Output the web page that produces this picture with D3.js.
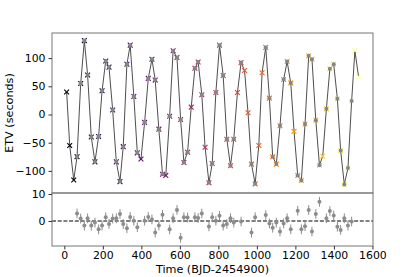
<!DOCTYPE html>
<html>
<head>
<meta charset="utf-8">
<script src="https://cdn.jsdelivr.net/npm/d3@7"></script>
<style>
  body { margin: 0; background: #fff; }
  svg { display: block; font-family: 'DejaVu Sans', sans-serif; }
</style>
</head>
<body>
<div class="container"></div>
<script>
// observed eclipse timing variations (days, seconds)
const obsTime = [12, 28, 49, 66, 85, 104, 121, 140, 159, 178, 196, 215, 232, 251, 270, 289, 306, 325, 342, 361,
    379, 398, 417, 436, 455, 472, 491, 510, 527, 547, 565, 585, 604, 621, 640, 659, 678, 695, 714, 731, 751, 768,
    787, 806, 825, 844, 863, 880, 899, 918, 936, 954, 972, 991, 1010, 1027, 1046, 1065, 1082, 1101, 1120, 1139, 1157, 1176,
    1193, 1212, 1231, 1250, 1269, 1286, 1306, 1325, 1342, 1361, 1379, 1399, 1418, 1435, 1454, 1473, 1492, 1509, 1528];
const obsEtv = [40, -55, -116, -75, 55, 131, 70, -40, -84, -39, 42, 95, 84, 8, -84, -119, -57, 89, 123, 32,
    -68, -79, -14, 64, 98, 61, -26, -106, -108, -3, 113, 101, -9, -85, -67, 13, 82, 93, 35, -58, -121, -87,
    39, 123, 69, -44, -91, -44, 39, 92, 78, 3, -88, -123, -55, 74, 119, 29, -75, -88, -20, 62, 94, 56,
    -30, -108, -117, -17, 104, 98, -10, -90, -74, 10, 81, 89, 28, -64, -124, -95, 24, 113, 67];

// residuals of the fitted model (only where the model was computed)
const resTime = [66, 85, 104, 121, 140, 159, 178, 196, 215, 232, 251, 270, 289, 306, 325, 342, 361, 379,
    417, 436, 455, 472, 491, 510, 547, 565, 585, 604, 621, 640, 678, 695, 714,
    751, 768, 787, 806, 825, 844, 863, 880, 918, 972, 991,
    1046, 1065, 1082, 1101, 1120, 1139, 1157, 1176, 1212, 1231, 1250, 1269, 1286, 1306, 1325,
    1361, 1379, 1399, 1418, 1435, 1454, 1473, 1492];
const resEtv = [2.8, 0.9, -1.7, 1.0, -1.7, -0.6, -3.1, -1.7, 1.4, -1.1, 0.9, 1.0, 2.6, -1.1, -2.7, 1.5, 0.1, -2.3,
    0.1, 1.5, 0.6, -4.3, -1.7, 2.3, -3.1, 1.0, 4.1, -6.2, 1.4, 1.3, 1.4, 1.1, 2.8,
    -2.0, 1.4, 0.1, 1.9, -1.7, -1.1, 1.0, -0.6, -0.2, -4.3, 1.4,
    2.2, -0.9, -2.5, -0.6, -3.9, -0.9, 1.0, -3.1, 3.8, -3.1, -1.9, 4.1, -3.9, 2.6, 7.1,
    1.0, 3.7, 2.0, -2.1, -3.3, 1.0, -1.7, -0.2];
const resErr = 1.8;

const xTicks = [0, 200, 400, 600, 800, 1000, 1200, 1400, 1600];
const yTicksTop = [-100, -50, 0, 50, 100];
const yTicksRes = [0, 10];

const w = 415;
const h = 277;
const left = 52, right = 373;
const topY0 = 33, topY1 = 193, resY1 = 246;
const fontSize = 11.2;
const tickFont = 10.9;

const svg = d3.select('.container')
    .append('svg')
    .attr('width', w)
    .attr('height', h);

const x = d3.scaleLinear().domain([-64, 1603]).range([left, right]);
const yTop = d3.scaleLinear().domain([-139.2, 144.5]).range([topY1, topY0]);
const yRes = d3.scaleLinear().domain([-9.26, 10.37]).range([resY1, topY1]);
const color = d3.scaleSequential(d3.interpolateInferno).domain(d3.extent(obsTime));

const obs = obsTime.map((t, i) => ({ t: t, v: obsEtv[i] }));
const res = resTime.map((t, i) => ({ t: t, v: resEtv[i] }));
const modelSet = new Set(resTime);

// ---- top panel ----
const gTop = svg.append('g');

gTop.append('path')
    .datum(obs)
    .attr('fill', 'none')
    .attr('stroke', '#3a3a3a')
    .attr('stroke-width', 0.9)
    .attr('d', d3.line().x(d => x(d.t)).y(d => yTop(d.v)));

gTop.selectAll('.cross')
    .data(obs)
    .join('path')
    .attr('class', 'cross')
    .attr('transform', d => `translate(${x(d.t)},${yTop(d.v)})`)
    .attr('d', 'M-2.4,-2.4L2.4,2.4M-2.4,2.4L2.4,-2.4')
    .attr('stroke', d => color(d.t))
    .attr('stroke-width', 1.1)
    .attr('fill', 'none');

gTop.selectAll('.model')
    .data(obs.filter(d => modelSet.has(d.t)))
    .join('circle')
    .attr('class', 'model')
    .attr('cx', d => x(d.t))
    .attr('cy', d => yTop(d.v))
    .attr('r', 2)
    .attr('fill', '#858585');

// ---- residual panel ----
const gRes = svg.append('g');

gRes.append('line')
    .attr('x1', left).attr('x2', right)
    .attr('y1', yRes(0)).attr('y2', yRes(0))
    .attr('stroke', '#000')
    .attr('stroke-width', 1.2)
    .attr('stroke-dasharray', '4,1.7');

gRes.selectAll('.err')
    .data(res)
    .join('line')
    .attr('class', 'err')
    .attr('x1', d => x(d.t)).attr('x2', d => x(d.t))
    .attr('y1', d => yRes(d.v - resErr)).attr('y2', d => yRes(d.v + resErr))
    .attr('stroke', '#8c8c8c')
    .attr('stroke-width', 1);

gRes.selectAll('.pt')
    .data(res)
    .join('circle')
    .attr('class', 'pt')
    .attr('cx', d => x(d.t))
    .attr('cy', d => yRes(d.v))
    .attr('r', 2)
    .attr('fill', '#8c8c8c');

// ---- frames and axes ----
[[topY0, topY1], [topY1, resY1]].forEach(([a, b]) => {
    svg.append('rect')
        .attr('x', left).attr('y', a)
        .attr('width', right - left).attr('height', b - a)
        .attr('fill', 'none')
        .attr('stroke', '#777')
        .attr('stroke-width', 1);
});

function yAxis(scale, ticks) {
    svg.append('g')
        .attr('transform', `translate(${left},0)`)
        .call(d3.axisLeft(scale).tickValues(ticks).tickSize(3.5).tickPadding(3).tickFormat(d3.format('d')))
        .call(g => g.select('.domain').remove())
        .call(g => g.selectAll('line').attr('stroke', '#333'))
        .call(g => g.selectAll('text')
            .attr('fill', '#000')
            .style('font-size', tickFont + 'px')
            .style('font-family', 'DejaVu Sans'));
}
yAxis(yTop, yTicksTop);
yAxis(yRes, yTicksRes);

svg.append('g')
    .attr('transform', `translate(0,${resY1})`)
    .call(d3.axisBottom(x).tickValues(xTicks).tickSize(3.5).tickPadding(2).tickFormat(d3.format('d')))
    .call(g => g.select('.domain').remove())
    .call(g => g.selectAll('line').attr('stroke', '#333'))
    .call(g => g.selectAll('text')
        .attr('fill', '#000')
        .style('font-size', tickFont + 'px')
        .style('font-family', 'DejaVu Sans'));

svg.append('text')
    .attr('x', (left + right) / 2)
    .attr('y', 272.5)
    .attr('text-anchor', 'middle')
    .style('font-size', fontSize + 'px')
    .text('Time (BJD-2454900)');

svg.append('text')
    .attr('transform', `translate(12.5,${(topY0 + topY1) / 2}) rotate(-90)`)
    .attr('text-anchor', 'middle')
    .style('font-size', fontSize + 'px')
    .text('ETV (seconds)');
</script>
</body>
</html>
